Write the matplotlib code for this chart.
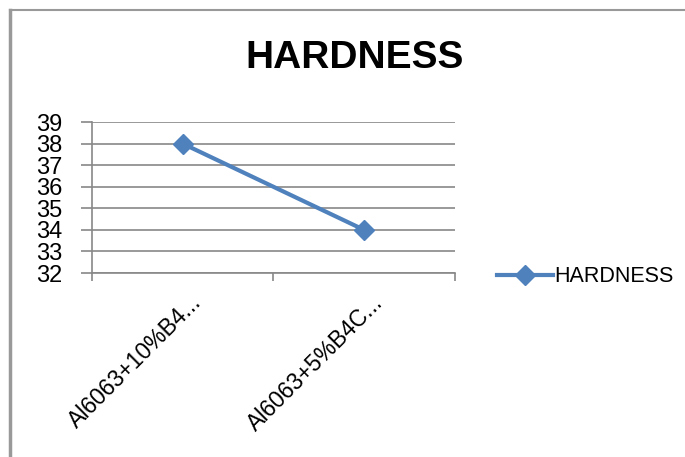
import matplotlib.pyplot as plt
from matplotlib.lines import Line2D

categories = ["Al6063+10%B4...", "Al6063+5%B4C..."]
hardness = [38, 34]
yticks = [32, 33, 34, 35, 36, 37, 38, 39]

plt.rcParams['font.family'] = ['Liberation Sans Narrow', 'Liberation Sans', 'DejaVu Sans']

fig = plt.figure(figsize=(6.85, 4.57), dpi=100)
ax = fig.add_axes([0.134, 0.4026, 0.53, 0.3304])

x = list(range(len(categories)))
ax.plot(x, hardness, color="#4F81BD", lw=3, marker="D", ms=10,
        label="HARDNESS", zorder=3)

ax.set_xlim(-0.5, len(categories) - 0.5)
ax.set_ylim(32, 39)
ax.set_yticks(yticks)
ax.set_yticklabels([str(v) for v in yticks], fontsize=17)
ax.yaxis.grid(True, color="#888888", lw=1.2)
ax.set_axisbelow(True)

# category labels, slanted like Excel does it
ax.set_xticks([-0.5, 0.5, 1.5])
ax.set_xticklabels([])
for i, name in zip(x, categories):
    ax.annotate(name, xy=(i, 0), xycoords=("data", "axes fraction"),
                xytext=(15, -26), textcoords="offset pixels",
                rotation=45, ha="right", va="center", rotation_mode="anchor",
                fontsize=16.5)
ax.tick_params(axis="x", length=6, color="#888888", width=1.2)
ax.tick_params(axis="y", length=8, color="#888888", width=1.2, pad=13)

for s in ["top", "right"]:
    ax.spines[s].set_visible(False)
for s in ["left", "bottom"]:
    ax.spines[s].set_color("#888888")
    ax.spines[s].set_linewidth(1.2)

fig.text(0.517, 0.873, "HARDNESS", ha="center", va="center",
         fontsize=28, fontweight="bold")

fig.legend(handles=[Line2D([], [], color="#4F81BD", lw=3, marker="D", ms=10)],
           labels=["HARDNESS"], loc="center left", bbox_to_anchor=(0.726, 0.394),
           frameon=False, fontsize=15.5, handlelength=2.6, handletextpad=0.05,
           borderpad=0, borderaxespad=0)

# partial frame like the source screenshot
fig.add_artist(Line2D([0.0146, 0.0146], [0, 0.978], color="#999999", lw=2.5,
                      transform=fig.transFigure))
fig.add_artist(Line2D([0.0146, 1], [0.978, 0.978], color="#999999", lw=1.5,
                      transform=fig.transFigure))

fig.savefig("out.png", dpi=100)
